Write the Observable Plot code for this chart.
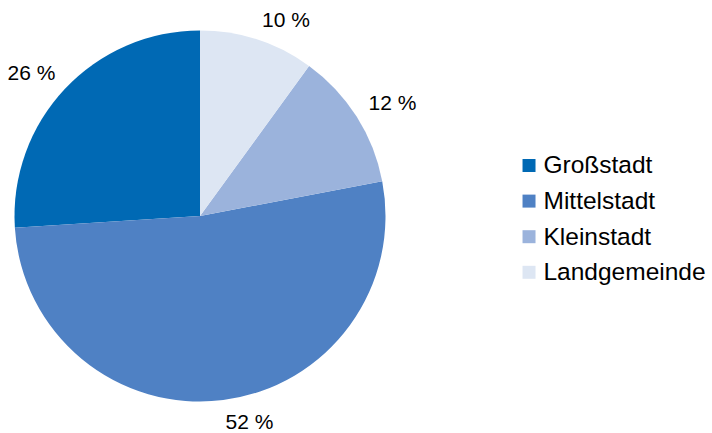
<!DOCTYPE html>
<html><head><meta charset="utf-8">
<script src="https://cdn.jsdelivr.net/npm/d3@7"></script>
<script src="https://cdn.jsdelivr.net/npm/@observablehq/plot@0.6"></script>
<style>body{margin:0;background:#fff}</style>
</head><body><div id="chart"></div>
<script>
const categories = ["Großstadt", "Mittelstadt", "Kleinstadt", "Landgemeinde"];
const shares = [26, 52, 12, 10];
const labels = ["26 %", "52 %", "12 %", "10 %"];
const colors = ["#0069b4", "#4f81c4", "#9bb3dc", "#dde6f3"];

// pie layout: start at 12 o'clock, counter-clockwise
const pieLayout = d3.pie().sort(null).startAngle(0).endAngle(-2 * Math.PI)(shares);
const LR = 1.073; // label radius (pie units)
const slices = categories.map((c, i) => {
  const s = pieLayout[i];
  const mid = (s.startAngle + s.endAngle) / 2;
  return {category: c, value: shares[i], label: labels[i], start: s.startAngle, end: s.endAngle,
          lx: LR * Math.sin(mid), ly: LR * Math.cos(mid), i};
});

function pieMark(data) {
  return (index, scales) => {
    const cx = scales.x(0), cy = scales.y(0), r = scales.x(1) - scales.x(0);
    const arc = d3.arc().innerRadius(0).outerRadius(r);
    const g = d3.create("svg:g").attr("transform", `translate(${cx},${cy})`);
    g.selectAll("path").data(data).join("path")
      .attr("d", d => arc({startAngle: d.start, endAngle: d.end}))
      .attr("fill", d => scales.color(d.category));
    return g.node();
  };
}

function labelMark(filter, textAnchor, lineAnchor) {
  return Plot.text(slices.filter(filter), {
    x: "lx", y: "ly", text: "label", textAnchor, lineAnchor,
    fontSize: 21, fill: "#000"
  });
}

const legX = 1.771, legTextX = 1.849, legY0 = 0.2749, legStep = 0.1919;

const chart = Plot.plot({
  width: 712, height: 433, margin: 0,
  style: {fontFamily: "'Liberation Sans', Arial, sans-serif", background: "#fff"},
  x: {domain: [-1, 1], range: [14.5, 385.5], axis: null},
  y: {domain: [-1, 1], range: [401.5, 30.5], axis: null},
  color: {domain: categories, range: colors},
  marks: [
    pieMark(slices),
    labelMark(d => d.lx > 0 && d.ly > 0, "start", "bottom"),
    labelMark(d => d.lx <= 0 && d.ly > 0, "end", "bottom"),
    labelMark(d => d.lx > 0 && d.ly <= 0, "start", "top"),
    labelMark(d => d.lx <= 0 && d.ly <= 0, "end", "top"),
    Plot.dot(slices, {x: () => legX, y: d => legY0 - d.i * legStep, fill: "category", symbol: "square", r: 7.33}),
    Plot.text(slices, {x: () => legTextX, y: d => legY0 - d.i * legStep, text: "category",
      textAnchor: "start", lineAnchor: "middle", fontSize: 24.5, fill: "#000"})
  ]
});
document.getElementById("chart").appendChild(chart);
</script>
</body></html>
